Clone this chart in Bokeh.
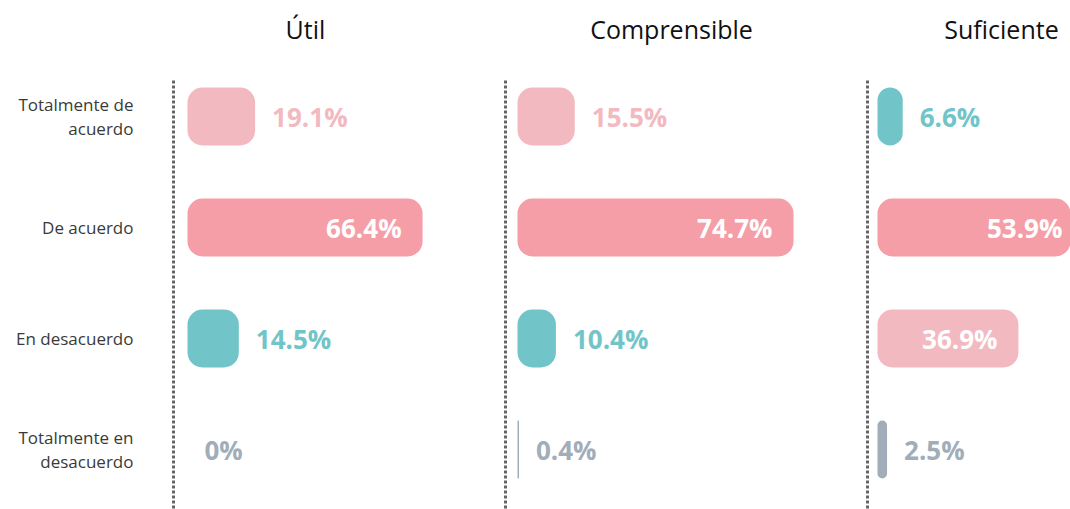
from bokeh.plotting import figure
from bokeh.layouts import row
from bokeh.models import Range1d, ColumnDataSource
from bokeh.core.properties import value
from bokeh.embed import file_html
from bokeh.resources import INLINE

# ---- data ----
categories = ["Totalmente de\nacuerdo", "De acuerdo", "En desacuerdo", "Totalmente en\ndesacuerdo"]
panel_titles = ["Útil", "Comprensible", "Suficiente"]
util = [19.1, 66.4, 14.5, 0.0]
comprensible = [15.5, 74.7, 10.4, 0.4]
suficiente = [6.6, 53.9, 36.9, 2.5]

# ---- style ----
FONT = "Open Sans"
RANK_COLORS = ["#F59EA7", "#F2B9C0", "#71C5C8", "#A1ADB9"]  # largest -> smallest
H = 509
ROW_PX = 111.0
ROW0_PX = 116.0  # center of first row from top of figure
Y_RANGE = ((H - ROW0_PX) / ROW_PX, -ROW0_PX / ROW_PX)
BAR_H = 58 / ROW_PX
INSIDE_MIN = 30
VAL_FS = "26px"


def style(p):
    p.axis.visible = False
    p.xgrid.visible = False
    p.ygrid.visible = False
    p.outline_line_color = None
    p.background_fill_color = "white"
    p.border_fill_color = "white"


def make_label_fig(width):
    p = figure(width=width, height=H, x_range=Range1d(0, width), y_range=Range1d(*Y_RANGE),
               output_backend="svg", toolbar_location=None, min_border=0)
    style(p)
    p.text(x=[133] * len(categories), y=list(range(len(categories))), text=categories,
           text_align="right", text_baseline="middle", text_font=value(FONT),
           text_font_size="17px", text_color="#3a3a3a", text_line_height=1.08)
    return p


def make_panel(title, vals, width, pad_px, scale, title_px, dots_px):
    x0 = -pad_px / scale
    p = figure(width=width, height=H, x_range=Range1d(x0, x0 + width / scale),
               y_range=Range1d(*Y_RANGE), output_backend="svg", toolbar_location=None, min_border=0)
    style(p)
    order = sorted(range(len(vals)), key=lambda i: -vals[i])
    colors = [None] * len(vals)
    for r, i in enumerate(order):
        colors[i] = RANK_COLORS[r]
    ys = list(range(len(vals)))
    p.segment(x0=[dots_px / scale], y0=[-36 / ROW_PX], x1=[dots_px / scale], y1=[Y_RANGE[0] + 0.2],
              line_color="#666666", line_width=3, line_dash="3 2")
    src = ColumnDataSource(dict(y=ys, right=vals, color=colors))
    p.hbar(y="y", left=0, right="right", height=BAR_H, source=src, fill_color="color",
           line_color=None, border_radius=15)
    labels = [f"{v:g}%" for v in vals]
    out = ColumnDataSource(dict(x=[v for v in vals if v < INSIDE_MIN],
                                y=[y for y, v in zip(ys, vals) if v < INSIDE_MIN],
                                t=[l for l, v in zip(labels, vals) if v < INSIDE_MIN],
                                c=[c for c, v in zip(colors, vals) if v < INSIDE_MIN]))
    inn = ColumnDataSource(dict(x=[v for v in vals if v >= INSIDE_MIN],
                                y=[y for y, v in zip(ys, vals) if v >= INSIDE_MIN],
                                t=[l for l, v in zip(labels, vals) if v >= INSIDE_MIN]))
    p.text(x="x", y="y", text="t", source=out, x_offset=17, text_align="left", text_baseline="middle",
           text_font=value(FONT), text_font_style="bold", text_font_size=VAL_FS, text_color="c")
    p.text(x="x", y="y", text="t", source=inn, x_offset=-21, text_align="right", text_baseline="middle",
           text_font=value(FONT), text_font_style="bold", text_font_size=VAL_FS, text_color="white")
    p.text(x=[title_px / scale], y=[-88 / ROW_PX], text=[title], text_align="center", text_baseline="middle",
           text_font=value(FONT), text_font_size="25px", text_color="#111111")
    return p


left = make_label_fig(165)
p1 = make_panel(panel_titles[0], util, 330, 22, 3.54, 118, -14)
p2 = make_panel(panel_titles[1], comprensible, 360, 22, 3.695, 154, -12)
p3 = make_panel(panel_titles[2], suficiente, 215, 22, 3.82, 124, -10)

layout = row(left, p1, p2, p3, spacing=0)
open("out.html", "w").write(file_html(layout, INLINE))
